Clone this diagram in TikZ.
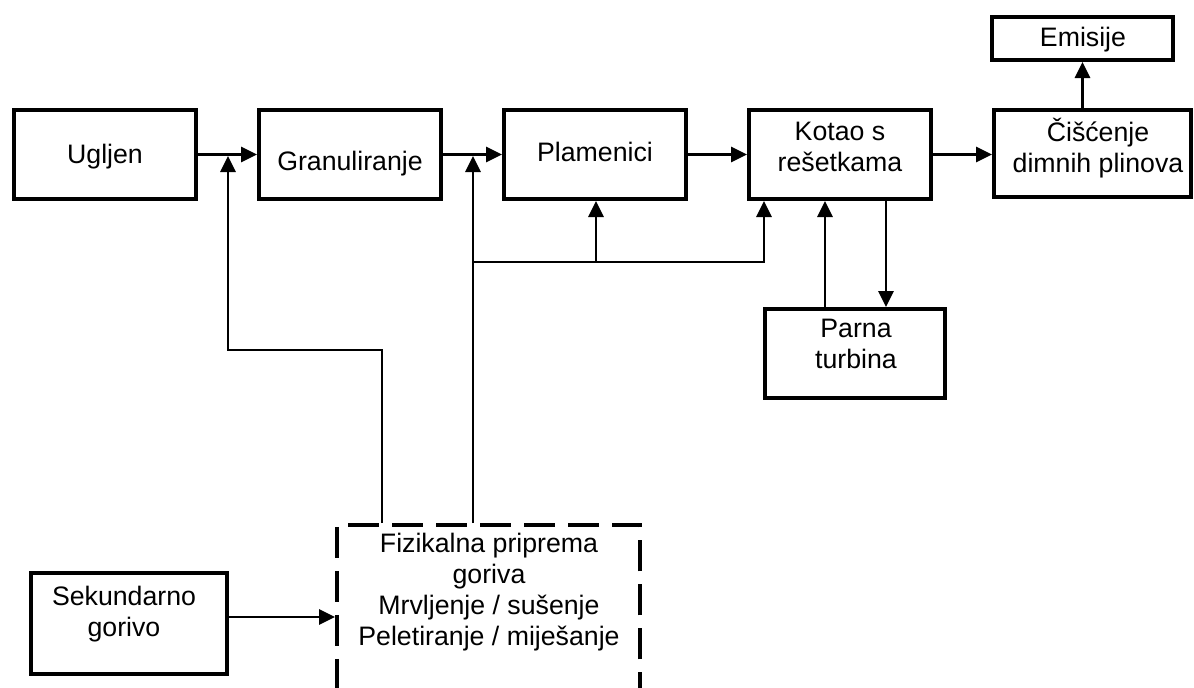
\documentclass[tikz,border=0pt]{standalone}
\usepackage{fontspec}
\setmainfont{Liberation Sans}
\usetikzlibrary{arrows.meta}
% fixed-height line strut so every text line has the same height and depth
\newcommand\lnstrut{\rule[-6pt]{0pt}{25pt}}

\begin{document}
\begin{tikzpicture}[x=1pt,y=-1pt,
  box/.style={draw, line width=3.7pt, inner sep=0pt, minimum width=182.3pt, minimum height=89.3pt},
  dashbox/.style={draw, line width=3.7pt, dash pattern=on 31pt off 13pt, inner sep=0pt},
  txt/.style={font=\fontsize{26.7}{31}\selectfont, align=center, inner sep=0pt},
  link/.style={line width=2.9pt},
  arr/.style={link, -{Triangle[length=16pt,width=15pt]}}
]
\useasboundingbox (0,0) rectangle (1194,688);
\clip (0,0) rectangle (1194,688);

% process blocks
\node[box] (ugljen) at (105,154.5) {};
\node[box] (gran) at (350,154.5) {};
\node[box] (plam) at (595,154.5) {};
\node[box] (kotao) at (840,154.5) {};
\node[box, minimum width=197.3pt, minimum height=87.3pt] (cisc) at (1092.5,153.5) {};
\node[box, minimum width=181.3pt, minimum height=43.3pt] (emis) at (1082.5,38.5) {};
\node[box, minimum width=180.3pt] (parna) at (855,353.5) {};
\node[box, minimum width=196.3pt, minimum height=101.3pt] (sek) at (129,623.5) {};
\node[dashbox, minimum width=303.3pt, minimum height=183.3pt] (prep) at (488.5,616.5) {};

% block texts
\node[txt] (ugljen-t) at (105,156.5) {\lnstrut Ugljen};
\node[txt] (gran-t) at (350,163.5) {\lnstrut Granuliranje};
\node[txt] (plam-t) at (595,154.5) {\lnstrut Plamenici};
\node[txt] (kotao-t) at (840,149) {\lnstrut Kotao s\\\lnstrut rešetkama};
\node[txt] (cisc-t) at (1098,148) {\lnstrut Čišćenje\\\lnstrut dimnih plinova};
\node[txt] (emis-t) at (1083,39.5) {\lnstrut Emisije};
\node[txt] (parna-t) at (856,346) {\lnstrut Parna\\\lnstrut turbina};
\node[txt] (sek-t) at (124,614) {\lnstrut Sekundarno\\\lnstrut gorivo};
\node[txt] (prep-t) at (489,592) {\lnstrut Fizikalna priprema\\\lnstrut goriva\\
  \lnstrut Mrvljenje / sušenje\\\lnstrut Peletiranje / miješanje};

% routing points
\coordinate (j1) at (228,156);
\coordinate (j2) at (473,156);
\coordinate (t1) at (228,350);
\coordinate (t2) at (382,350);
\coordinate (b1) at (473,262);
\coordinate (b2) at (596,262);
\coordinate (b3) at (764,262);
\coordinate (p1) at (825,0);
\coordinate (p2) at (886,0);
\coordinate (s1) at (0,617);

% main chain
\draw[arr] (ugljen) -- (gran);
\draw[arr] (gran) -- (plam);
\draw[arr] (plam) -- (kotao);
\draw[arr] (kotao.east) -- (kotao.east -| cisc.west);
\draw[arr] (cisc.north -| emis.south) -- (emis.south);

% fuel preparation feeds
\draw[arr] (prep.north -| t2) -- (t2) -- (t1) -- (j1);
\draw[arr] (prep.north -| j2) -- (j2);
\draw[arr] (b1) -- (b3) -- (kotao.south -| b3);
\draw[arr] (b2) -- (plam.south -| b2);

% steam cycle
\draw[arr] (parna.north -| p1) -- (kotao.south -| p1);
\draw[arr] (kotao.south -| p2) -- (parna.north -| p2);

% secondary fuel
\draw[arr] (sek.east |- s1) -- (prep.west |- s1);
\end{tikzpicture}
\end{document}
